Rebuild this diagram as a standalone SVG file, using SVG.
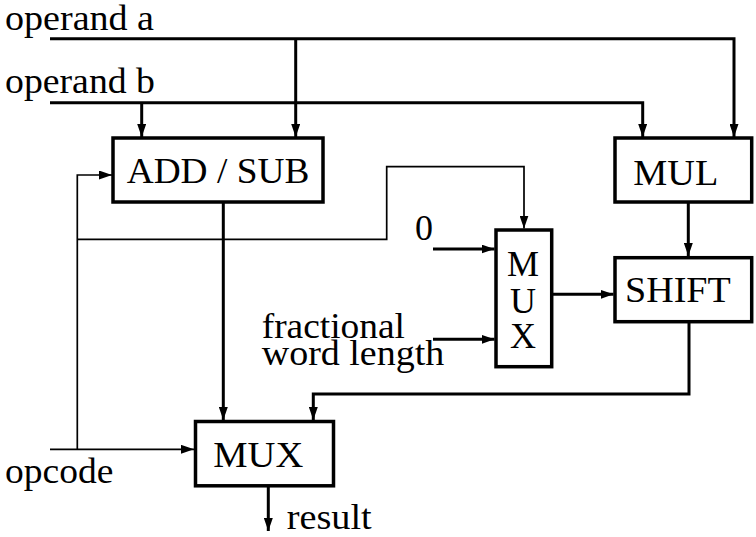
<svg xmlns="http://www.w3.org/2000/svg" width="756" height="537" viewBox="0 0 756 537">
<style>
text{font-family:"Liberation Serif","Times New Roman",serif;font-size:36px;fill:#000}
.box{fill:#fff;stroke:#000;stroke-width:3.5}
.thick{fill:none;stroke:#000;stroke-width:3}
.thin{fill:none;stroke:#000;stroke-width:1.7}
</style>
<defs>
<marker id="ah" markerUnits="userSpaceOnUse" markerWidth="13" markerHeight="9" refX="13" refY="4.5" orient="auto">
<path d="M0,0 L13,4.5 L0,9 z" fill="#000"/>
</marker>
</defs>
<g id="connectors">
<path class="thick" d="M50,38.7 H734 V137" marker-end="url(#ah)"/>
<path class="thick" d="M295.7,38.7 V137" marker-end="url(#ah)"/>
<path class="thick" d="M50,102.7 H642.7 V137" marker-end="url(#ah)"/>
<path class="thick" d="M141.7,102.7 V137" marker-end="url(#ah)"/>
<path class="thick" d="M223.3,202 V420" marker-end="url(#ah)"/>
<path class="thick" d="M688.3,202 V256" marker-end="url(#ah)"/>
<path class="thick" d="M433,249 H494.5" marker-end="url(#ah)"/>
<path class="thick" d="M433,339.3 H494.5" marker-end="url(#ah)"/>
<path class="thick" d="M551.7,294.3 H613.5" marker-end="url(#ah)"/>
<path class="thick" d="M689,321.7 V394 H313.3 V420" marker-end="url(#ah)"/>
<path class="thick" d="M268.3,486 V531" marker-end="url(#ah)"/>
<path class="thin" d="M50,449.3 H194" marker-end="url(#ah)"/>
<path class="thin" d="M77.3,449.3 V175 H112" marker-end="url(#ah)"/>
<path class="thin" d="M77.3,239.3 H386.7 V166.7 H524 V228.5" marker-end="url(#ah)"/>
</g>
<g id="labels">
<text x="5" y="30" textLength="149" lengthAdjust="spacingAndGlyphs">operand a</text>
<text x="5" y="92.5" textLength="150" lengthAdjust="spacingAndGlyphs">operand b</text>
<text x="415" y="239.5">0</text>
<text x="261.7" y="338.3" textLength="143.3" lengthAdjust="spacingAndGlyphs">fractional</text>
<text x="261.7" y="365" textLength="182.6" lengthAdjust="spacingAndGlyphs">word length</text>
<text x="5" y="483.3" textLength="108.3" lengthAdjust="spacingAndGlyphs">opcode</text>
<text x="286.7" y="528.5" textLength="85" lengthAdjust="spacingAndGlyphs">result</text>
</g>
<g id="addsub">
<rect class="box" x="113" y="138" width="210" height="64"/>
<text x="126.7" y="183.3" textLength="182.6" lengthAdjust="spacingAndGlyphs">ADD / SUB</text>
</g>
<g id="mul">
<rect class="box" x="615" y="138" width="136.7" height="64"/>
<text x="633.3" y="185" textLength="85" lengthAdjust="spacingAndGlyphs">MUL</text>
</g>
<g id="mux1">
<rect class="box" x="496" y="230" width="55.7" height="136.7"/>
<text x="523" y="276" text-anchor="middle">M</text>
<text x="523" y="313.3" text-anchor="middle">U</text>
<text x="523" y="348.3" text-anchor="middle">X</text>
</g>
<g id="shift">
<rect class="box" x="615" y="257.7" width="136.7" height="64"/>
<text x="625" y="301.7" textLength="105.7" lengthAdjust="spacingAndGlyphs">SHIFT</text>
</g>
<g id="mux2">
<rect class="box" x="195.5" y="421.5" width="138" height="64.3"/>
<text x="213.3" y="466.7" textLength="90" lengthAdjust="spacingAndGlyphs">MUX</text>
</g>
</svg>
